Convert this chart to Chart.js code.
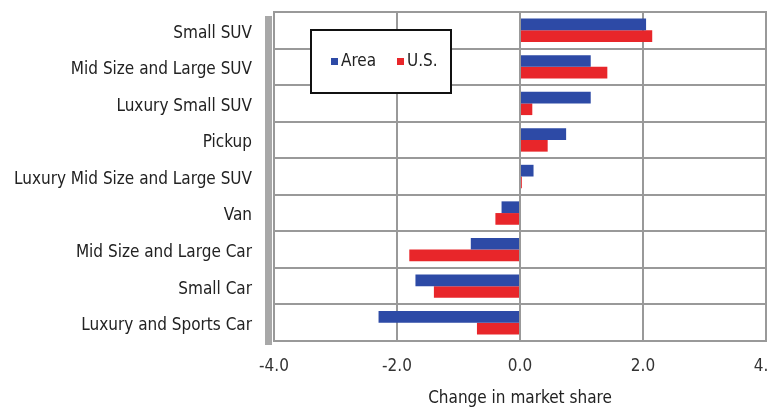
<!DOCTYPE html>
<html><head><meta charset="utf-8">
<script src="https://cdn.jsdelivr.net/npm/chart.js@4/dist/chart.umd.min.js"></script>
<style>html,body{margin:0;padding:0;background:#fff;}#wrap{width:769px;height:413px;position:relative;}</style>
</head><body><div id="wrap"><canvas id="c" width="769" height="413"></canvas></div>
<script>
const categories = ["Small SUV","Mid Size and Large SUV","Luxury Small SUV","Pickup","Luxury Mid Size and Large SUV","Van","Mid Size and Large Car","Small Car","Luxury and Sports Car"];
const areaValues = [2.05, 1.15, 1.15, 0.75, 0.22, -0.3, -0.8, -1.7, -2.3];
const usValues = [2.15, 1.42, 0.2, 0.45, 0.03, -0.4, -1.8, -1.4, -0.7];
const seriesNames = ["Area","U.S."];
const tickValues = [-4, -2, 0, 2, 4];
const FONT = "'Liberation Sans Narrow','DejaVu Sans Condensed',sans-serif";

const legendBox = {
  id: 'legendBox',
  afterDraw(chart) {
    const ctx = chart.ctx;
    const x = 311, y = 30, w = 140, h = 63;
    ctx.save();
    ctx.fillStyle = '#fff';
    ctx.fillRect(x, y, w, h);
    ctx.lineWidth = 2;
    ctx.strokeStyle = '#111';
    ctx.strokeRect(x, y, w, h);
    ctx.font = "17px " + FONT;
    ctx.textBaseline = 'middle';
    const cols = ['#2d4aa6', '#e8262a'];
    const xs = [331, 397];
    seriesNames.forEach((n, i) => {
      ctx.fillStyle = cols[i];
      ctx.fillRect(xs[i], 58, 7, 7);
      ctx.fillStyle = '#222';
      ctx.fillText(n, xs[i] + 10, 62);
    });
    ctx.restore();
  }
};
const wall = {
  id: 'wall',
  beforeDatasetsDraw(chart) {
    const a = chart.chartArea, ctx = chart.ctx;
    ctx.save();
    ctx.fillStyle = '#a8a8a8';
    ctx.fillRect(a.left - 9, a.top + 4, 7, a.bottom - a.top);
    ctx.strokeStyle = '#999';
    ctx.lineWidth = 2;
    ctx.strokeRect(a.left, a.top, a.right - a.left, a.bottom - a.top);
    ctx.restore();
  }
};

new Chart(document.getElementById('c'), {
  type: 'bar',
  data: {
    labels: categories,
    datasets: [
      { label: seriesNames[0], data: areaValues, backgroundColor: '#2d4aa6', borderWidth: 0 },
      { label: seriesNames[1], data: usValues, backgroundColor: '#e8262a', borderWidth: 0 }
    ]
  },
  options: {
    indexAxis: 'y',
    responsive: false,
    animation: false,
    layout: { padding: { top: 12, right: 3, left: 0, bottom: 0 } },
    plugins: { legend: { display: false }, tooltip: { enabled: false } },
    datasets: { bar: { categoryPercentage: 0.64, barPercentage: 1.0 } },
    scales: {
      x: {
        min: -4, max: 4,
        afterBuildTicks(s) { s.ticks = tickValues.map(v => ({ value: v })); },
        ticks: { callback: v => v.toFixed(1), color: '#333', font: { family: FONT, size: 17 }, padding: 15, maxRotation: 0 },
        grid: { color: '#999', lineWidth: 2, drawTicks: false },
        border: { display: false },
        title: { display: true, text: 'Change in market share', color: '#222', font: { family: FONT, size: 17 }, padding: { top: 10 } },
        afterFit(s) { s.height = 72; s.paddingLeft = 0; s.paddingRight = 0; }
      },
      y: {
        ticks: { color: '#222', font: { family: FONT, size: 17 }, padding: 22, labelOffset: 3 },
        grid: { color: '#999', lineWidth: 2, drawTicks: false, offset: true },
        border: { display: false },
        afterFit(s) { s.width = 274; s.paddingTop = 0; s.paddingBottom = 0; }
      }
    }
  },
  plugins: [wall, legendBox]
});
</script></body></html>
